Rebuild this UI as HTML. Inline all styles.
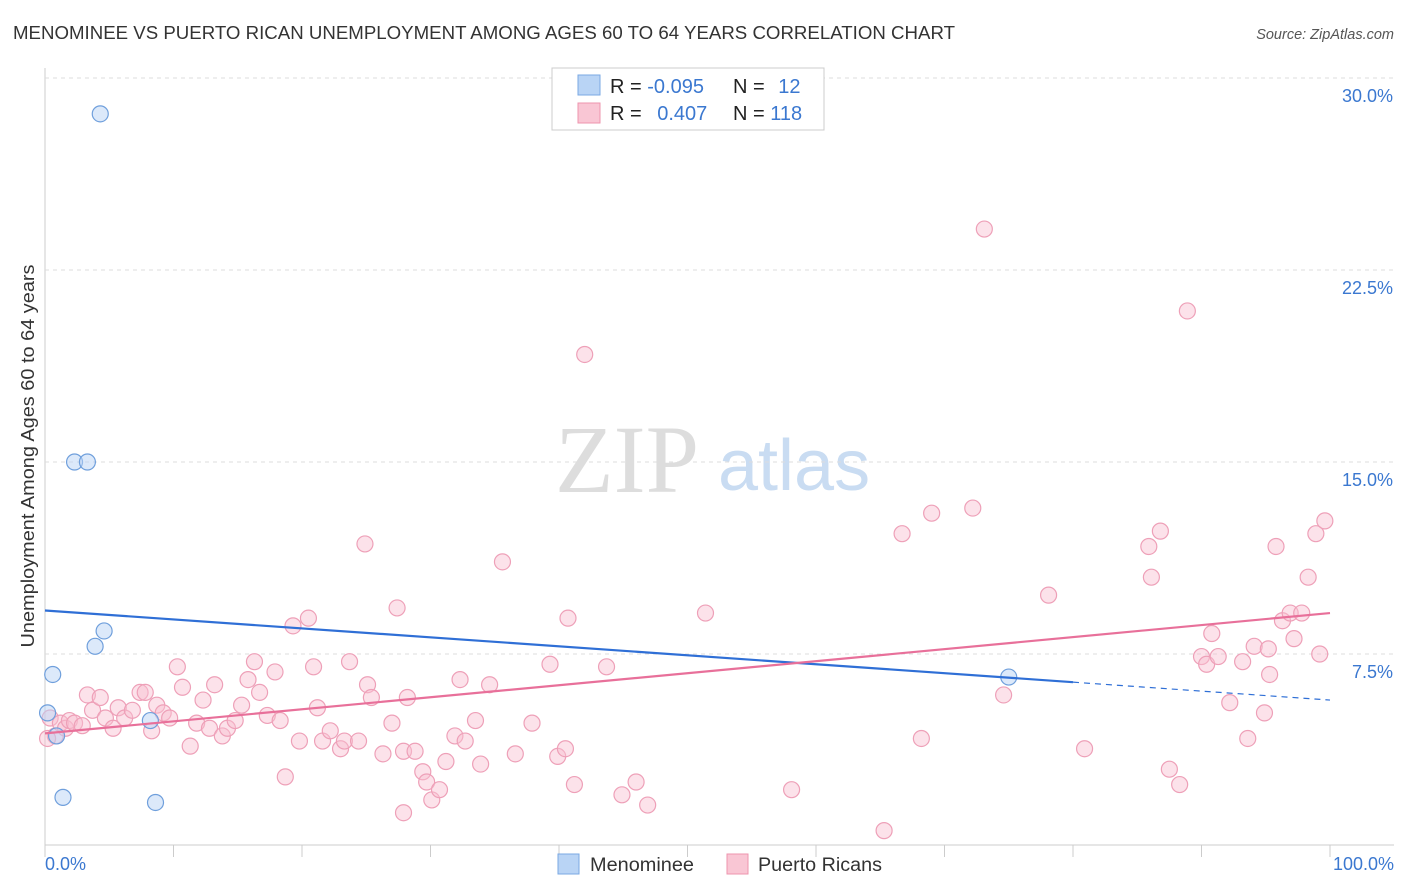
<!DOCTYPE html>
<html><head><meta charset="utf-8"><style>
body{margin:0;background:#fff;font-family:"Liberation Sans",sans-serif;}
svg{display:block}
</style></head><body>
<svg id="c" width="1406" height="892">
<text x="13" y="39" font-size="18" fill="#333" textLength="942" lengthAdjust="spacingAndGlyphs">MENOMINEE VS PUERTO RICAN UNEMPLOYMENT AMONG AGES 60 TO 64 YEARS CORRELATION CHART</text>
<text x="1394" y="39" font-size="14.5" fill="#555" font-style="italic" text-anchor="end">Source: ZipAtlas.com</text>
<text x="555" y="492" font-size="96" fill="#ddd" font-family="Liberation Serif">ZIP</text>
<text x="718" y="490" font-size="72" fill="#c9dcf2">atlas</text>
<text transform="translate(34,456) rotate(-90)" font-size="18" fill="#333" text-anchor="middle" textLength="383" lengthAdjust="spacingAndGlyphs">Unemployment Among Ages 60 to 64 years</text>
<g id="grid"></g><g id="pts"></g><g id="trend"></g>
<g>
<rect x="552" y="68" width="272" height="62" fill="#fff" stroke="#ccc"/>
<rect x="578" y="75" width="22" height="20" fill="#b9d4f5" stroke="#7aa8e3"/>
<rect x="578" y="103" width="22" height="20" fill="#f9c6d4" stroke="#ee94ae"/>
<text x="610" y="93" font-size="20" fill="#222">R = <tspan fill="#3b78d0">-0.095</tspan></text>
<text x="733" y="93" font-size="20" fill="#222">N = <tspan fill="#3b78d0" dx="8">12</tspan></text>
<text x="610" y="120" font-size="20" fill="#222">R = <tspan fill="#3b78d0" dx="10">0.407</tspan></text>
<text x="733" y="120" font-size="20" fill="#222">N = <tspan fill="#3b78d0">118</tspan></text>
</g>
<g>
<rect x="558" y="854" width="21" height="20" fill="#b9d4f5" stroke="#7aa8e3"/>
<text x="590" y="871" font-size="19" fill="#333" textLength="104" lengthAdjust="spacingAndGlyphs">Menominee</text>
<rect x="727" y="854" width="21" height="20" fill="#f9c6d4" stroke="#ee94ae"/>
<text x="758" y="871" font-size="19" fill="#333" textLength="124" lengthAdjust="spacingAndGlyphs">Puerto Ricans</text>
</g>
</svg>
<script>
const yTicks=[7.5,15,22.5,30];
const yTickLabels=["7.5%","15.0%","22.5%","30.0%"];
const xTickLabels=["0.0%","100.0%"];
const blueX=[4.3,2.3,3.3,4.6,3.9,0.6,0.2,0.9,1.4,8.6,8.2,75];
const blueY=[28.6,15.0,15.0,8.4,7.8,6.7,5.2,4.3,1.9,1.7,4.9,6.6];
const pinkX=[0.4,0.8,1.2,1.6,1.9,2.3,0.2,2.9,3.3,3.7,4.3,4.7,5.3,5.7,6.2,6.8,7.4,7.8,8.3,8.7,9.2,9.7,10.3,10.7,11.3,11.8,12.3,12.8,13.2,13.8,14.2,14.8,15.3,15.8,16.3,16.7,17.3,17.9,18.3,18.7,19.3,19.8,20.5,20.9,21.2,21.6,22.2,23.0,23.3,23.7,24.4,24.9,25.1,25.4,26.3,27.0,27.4,27.9,28.2,28.8,29.4,29.7,30.1,30.7,31.2,31.9,32.3,32.7,33.5,33.9,34.6,35.6,36.6,37.9,39.3,39.9,40.5,40.7,41.2,42.0,43.7,44.9,46.0,46.9,51.4,58.1,65.3,66.7,68.2,69.0,72.2,73.1,74.6,78.1,80.9,85.9,86.1,86.8,87.5,88.3,88.9,90.0,90.4,90.8,91.3,92.2,93.2,93.6,94.1,94.9,95.2,95.3,95.8,96.3,96.9,97.2,97.8,98.3,98.9,99.2,99.6,27.9];
const pinkY=[5.0,4.3,4.8,4.6,4.9,4.8,4.2,4.7,5.9,5.3,5.8,5.0,4.6,5.4,5.0,5.3,6.0,6.0,4.5,5.5,5.2,5.0,7.0,6.2,3.9,4.8,5.7,4.6,6.3,4.3,4.6,4.9,5.5,6.5,7.2,6.0,5.1,6.8,4.9,2.7,8.6,4.1,8.9,7.0,5.4,4.1,4.5,3.8,4.1,7.2,4.1,11.8,6.3,5.8,3.6,4.8,9.3,3.7,5.8,3.7,2.9,2.5,1.8,2.2,3.3,4.3,6.5,4.1,4.9,3.2,6.3,11.1,3.6,4.8,7.1,3.5,3.8,8.9,2.4,19.2,7.0,2.0,2.5,1.6,9.1,2.2,0.6,12.2,4.2,13.0,13.2,24.1,5.9,9.8,3.8,11.7,10.5,12.3,3.0,2.4,20.9,7.4,7.1,8.3,7.4,5.6,7.2,4.2,7.8,5.2,7.7,6.7,11.7,8.8,9.1,8.1,9.1,10.5,12.2,7.5,12.7,1.3];
const blueTrend=[9.2,5.7]; // y at x=0 and x=100
const pinkTrend=[4.4,9.1];
const X=v=>45+v*12.85, Y=v=>846-v*25.6;
const NS="http://www.w3.org/2000/svg";
function mk(p,t,a){const e=document.createElementNS(NS,t);for(const k in a)e.setAttribute(k,a[k]);p.appendChild(e);return e;}
const g=document.getElementById('grid');
let e=mk(g,'line',{x1:45,y1:68,x2:45,y2:845,stroke:'#ccc'});


e=mk(g,'line',{x1:45,y1:845,x2:1394,y2:845,stroke:'#ccc'});


yTicks.forEach((t,i)=>{
 e=mk(g,'line',{x1:45,y1:Y(t),x2:1394,y2:Y(t),stroke:'#ddd','stroke-dasharray':'4,4'});
 
 
 e=mk(g,'text',{x:1393,y:Y(t)+24,'font-size':18,fill:'#3b78d0','text-anchor':'end'});
 e.textContent=yTickLabels[i];
 
 
});
for(let i=0;i<=10;i++){
 e=mk(g,'line',{x1:X(i*10),y1:845,x2:X(i*10),y2:857,stroke:'#ccc'});
 
 
}
[[0,'start',45],[1,'end',1394]].forEach(([i,a,x])=>{
 e=mk(g,'text',{x:x,y:870,'font-size':18,fill:'#3b78d0','text-anchor':a});
 e.textContent=xTickLabels[i];
 
 
});
const P=document.getElementById('pts');
pinkX.forEach((x,i)=>{
 e=mk(P,'circle',{cx:X(x),cy:Y(pinkY[i]),r:8,fill:'rgba(249,190,208,0.45)',stroke:'#eea0b8','stroke-width':1.2});
 
 
});
blueX.forEach((x,i)=>{
 e=mk(P,'circle',{cx:X(x),cy:Y(blueY[i]),r:8,fill:'rgba(185,212,245,0.5)',stroke:'#6f9fdc','stroke-width':1.2});
 
 
});
const T=document.getElementById('trend');
const by=x=>blueTrend[0]+(blueTrend[1]-blueTrend[0])*x/100;
e=mk(T,'line',{x1:X(0),y1:Y(by(0)),x2:X(80),y2:Y(by(80)),stroke:'#2f6fd6','stroke-width':2.2});


e=mk(T,'line',{x1:X(80),y1:Y(by(80)),x2:X(100),y2:Y(by(100)),stroke:'#2f6fd6','stroke-width':1.2,'stroke-dasharray':'6,5'});


e=mk(T,'line',{x1:X(0),y1:Y(pinkTrend[0]),x2:X(100),y2:Y(pinkTrend[1]),stroke:'#e8709a','stroke-width':2.2});


</script>
</body></html>
